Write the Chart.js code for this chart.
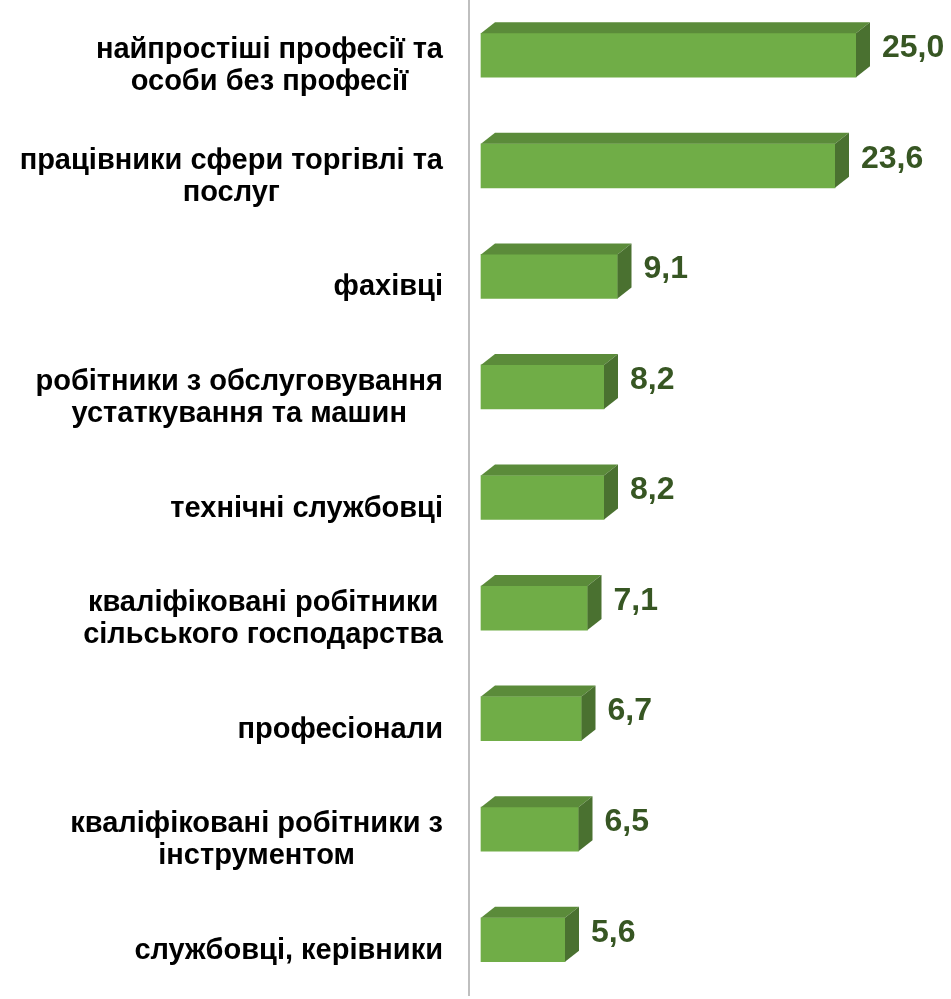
<!DOCTYPE html>
<html>
<head>
<meta charset="utf-8">
<script src="https://cdn.jsdelivr.net/npm/chart.js@4"></script>
<style>
    html, body { margin: 0; padding: 0; background: #fff; }
    #wrap { width: 951px; height: 999px; }
</style>
</head>
<body>
<div id="wrap"><canvas id="chart" width="951" height="999"></canvas></div>
<script>
const categories = [
    ['найпростіші професії та', 'особи без професії'],
    ['працівники сфери торгівлі та', 'послуг'],
    'фахівці',
    ['робітники з обслуговування', 'устаткування та машин'],
    'технічні службовці',
    ['кваліфіковані робітники', 'сільського господарства'],
    'професіонали',
    ['кваліфіковані робітники з', 'інструментом'],
    'службовці, керівники'
];
const values = [25.0, 23.6, 9.1, 8.2, 8.2, 7.1, 6.7, 6.5, 5.6];

const FRONT = '#70ad47';
const TOP = '#5b8b3a';
const SIDE = '#4a7130';
const DEPTH_X = 14;
const DEPTH_Y = 11;
const LABEL_FONT = 'bold 29px "Liberation Sans", Arial, sans-serif';

function fmt(v) {
    return v.toFixed(1).replace('.', ',');
}

// draws the top and side faces of each bar, then the value label
const bar3d = {
    id: 'bar3d',
    afterDatasetsDraw(chart) {
        const ctx = chart.ctx;
        const meta = chart.getDatasetMeta(0);
        meta.data.forEach((bar, i) => {
            const p = bar.getProps(['x', 'y', 'base', 'height'], true);
            const left = p.base, right = p.x;
            const top = p.y - p.height / 2, bottom = p.y + p.height / 2;
            ctx.save();
            ctx.fillStyle = TOP;
            ctx.beginPath();
            ctx.moveTo(left, top);
            ctx.lineTo(left + DEPTH_X, top - DEPTH_Y);
            ctx.lineTo(right + DEPTH_X, top - DEPTH_Y);
            ctx.lineTo(right, top);
            ctx.closePath();
            ctx.fill();
            ctx.fillStyle = SIDE;
            ctx.beginPath();
            ctx.moveTo(right, top);
            ctx.lineTo(right + DEPTH_X, top - DEPTH_Y);
            ctx.lineTo(right + DEPTH_X, bottom - DEPTH_Y);
            ctx.lineTo(right, bottom);
            ctx.closePath();
            ctx.fill();
            ctx.fillStyle = '#375623';
            ctx.font = 'bold 32px "Liberation Sans", Arial, sans-serif';
            ctx.textAlign = 'left';
            ctx.textBaseline = 'middle';
            ctx.fillText(fmt(values[i]), right + DEPTH_X + 12, p.y - 7);
            ctx.restore();
        });
    }
};

// category labels: block right-aligned to the axis, lines centred within the block
const centredLabels = {
    id: 'centredLabels',
    afterDraw(chart) {
        const ctx = chart.ctx;
        const scale = chart.scales.y;
        const rightEdge = scale.right - 26;
        ctx.save();
        ctx.font = LABEL_FONT;
        ctx.fillStyle = '#000';
        ctx.textAlign = 'center';
        ctx.textBaseline = 'middle';
        categories.forEach((c, i) => {
            const lines = Array.isArray(c) ? c : [c];
            const maxW = Math.max(...lines.map(l => ctx.measureText(l).width));
            const cx = rightEdge - maxW / 2;
            const y0 = scale.getPixelForTick(i) + 11 - (lines.length - 1) * 16;
            lines.forEach((l, j) => ctx.fillText(l, cx, y0 + j * 32));
        });
        ctx.restore();
    }
};

new Chart(document.getElementById('chart'), {
    type: 'bar',
    data: {
        labels: categories,
        datasets: [{
            data: values,
            backgroundColor: FRONT,
            borderWidth: 0,
            barThickness: 44
        }]
    },
    options: {
        indexAxis: 'y',
        responsive: false,
        animation: false,
        layout: { padding: { left: 0, right: 32, top: 0, bottom: 4 } },
        plugins: {
            legend: { display: false },
            tooltip: { enabled: false }
        },
        scales: {
            x: {
                display: false,
                min: -0.8,
                max: 29.2
            },
            y: {
                afterFit(scale) {
                    scale.width = 469;
                    scale.paddingTop = 0;
                    scale.paddingBottom = 0;
                },
                grid: { display: false, drawTicks: false },
                border: { display: true, color: '#bfbfbf', width: 2 },
                ticks: { display: false }
            }
        }
    },
    plugins: [bar3d, centredLabels]
});
</script>
</body>
</html>
